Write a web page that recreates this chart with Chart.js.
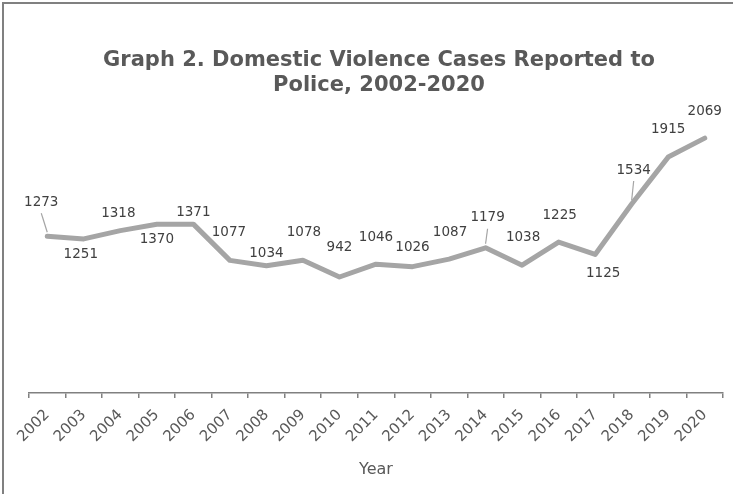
<!DOCTYPE html>
<html>
<head>
<meta charset="utf-8">
<script src="https://cdn.jsdelivr.net/npm/chart.js@4/dist/chart.umd.min.js"></script>
<style>
  html, body { margin: 0; padding: 0; background: #fff; }
  #wrap { position: relative; width: 733px; height: 494px; }
</style>
</head>
<body>
<div id="wrap"><canvas id="chart"></canvas></div>
<script>
// Domestic violence cases line chart

const years = ['2002', '2003', '2004', '2005', '2006', '2007', '2008', '2009', '2010', '2011',
  '2012', '2013', '2014', '2015', '2016', '2017', '2018', '2019', '2020'];
const cases = [1273, 1251, 1318, 1370, 1371, 1077, 1034, 1078, 942, 1046,
  1026, 1087, 1179, 1038, 1225, 1125, 1534, 1915, 2069];
const titleLines = ['Graph 2. Domestic Violence Cases Reported to', 'Police, 2002-2020'];
const axisTitle = 'Year';

// where each value label sits relative to its point (dx, dy), and which get a leader line
const labelDx = [-6, -3, -2, 0, 0, -1, 0, 1, 0, 0, 0, 1, 2, 1, 1, 8, 2, 0, 0];
const labelDy = [-34, 16, -17, 15, -12, -28, -12, -28, -29, -27, -19, -27, -30, -28, -27, 19, -34, -28, -27];
const leaders = [0, 12, 16];

const FONT = 'DejaVu Sans';

const frame = {
  id: 'frame',
  beforeDraw(chart) {
    const ctx = chart.ctx;
    ctx.save();
    ctx.fillStyle = '#fff';
    ctx.fillRect(0, 0, chart.width, chart.height);
    ctx.strokeStyle = '#808080';
    ctx.lineWidth = 2;
    ctx.beginPath();
    ctx.moveTo(3, chart.height);
    ctx.lineTo(3, 3);
    ctx.lineTo(chart.width, 3);
    ctx.stroke();
    // title
    const a = chart.chartArea;
    ctx.fillStyle = '#595959';
    ctx.font = 'bold 21px "' + FONT + '"';
    ctx.textAlign = 'center';
    ctx.textBaseline = 'middle';
    titleLines.forEach((t, i) => ctx.fillText(t, (a.left + a.right) / 2 + 3, 61 + i * 25));
    ctx.restore();
  }
};

const valueLabels = {
  id: 'valueLabels',
  afterDatasetsDraw(chart) {
    const ctx = chart.ctx;
    const pts = chart.getDatasetMeta(0).data;
    ctx.save();
    ctx.font = '13.5px "' + FONT + '"';
    ctx.fillStyle = '#404040';
    ctx.textAlign = 'center';
    ctx.textBaseline = 'middle';
    pts.forEach((p, i) => {
      const lx = p.x + labelDx[i];
      const ly = p.y + labelDy[i];
      ctx.fillText(String(cases[i]), lx, ly);
      if (leaders.includes(i)) {
        ctx.strokeStyle = '#A5A5A5';
        ctx.lineWidth = 1.2;
        ctx.beginPath();
        ctx.moveTo(lx, ly + 11);
        ctx.lineTo(p.x, p.y - 4);
        ctx.stroke();
      }
    });
    ctx.restore();
  }
};

new Chart(document.getElementById('chart'), {
  type: 'line',
  data: {
    labels: years,
    datasets: [{
      data: cases,
      borderColor: '#A5A5A5',
      borderWidth: 5,
      borderCapStyle: 'round',
      borderJoinStyle: 'round',
      pointRadius: 0,
      tension: 0,
      fill: false
    }]
  },
  options: {
    responsive: true,
    maintainAspectRatio: false,
    animation: false,
    layout: { padding: { top: 85, left: 29, right: 10, bottom: 15 } },
    plugins: {
      legend: { display: false },
      title: { display: false },
      tooltip: { enabled: false }
    },
    scales: {
      x: {
        offset: true,
        grid: { display: true, offset: true, drawOnChartArea: false, color: '#808080', tickLength: 5, lineWidth: 1.5 },
        border: { display: true, color: '#808080', width: 1.5 },
        ticks: { color: '#595959', font: { family: FONT, size: 15 }, minRotation: 45, maxRotation: 45, padding: 8 },
        title: { display: true, text: axisTitle, color: '#595959', font: { family: FONT, size: 16 }, padding: { top: 6, bottom: 0 } }
      },
      y: {
        display: false,
        min: 0,
        max: 2500
      }
    }
  },
  plugins: [frame, valueLabels]
});
</script>
</body>
</html>
